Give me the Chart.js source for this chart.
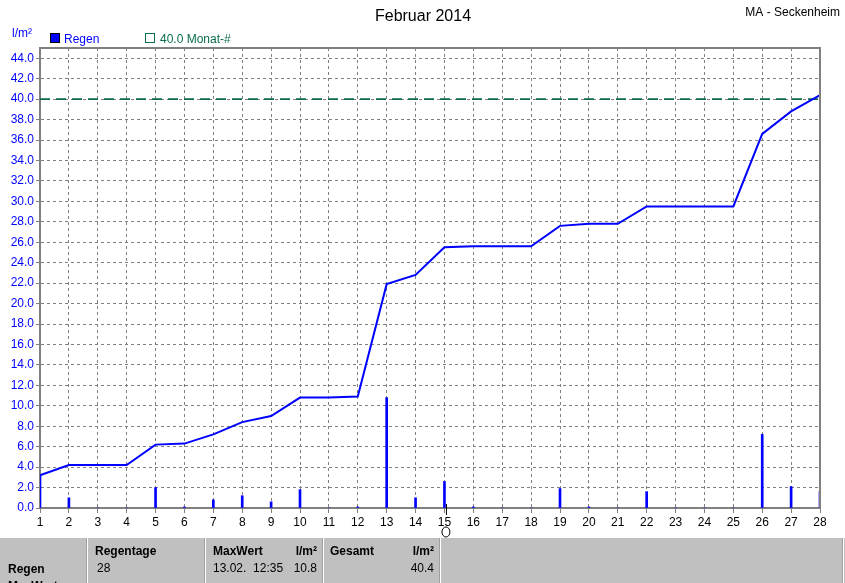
<!DOCTYPE html>
<html>
<head>
<meta charset="UTF-8">
<title>Februar 2014</title>
<script src="https://cdn.jsdelivr.net/npm/chart.js@4.4.1/dist/chart.umd.min.js"></script>
<style>
body { margin:0; background:#fff; }
</style>
</head>
<body>
<canvas id="myChart" width="845" height="583"></canvas>
<script>
// Tage im Februar
var tage = ['1','2','3','4','5','6','7','8','9','10','11','12','13','14',
            '15','16','17','18','19','20','21','22','23','24','25','26','27','28'];
// Tagesregen l/m²
var regen = [3.2,1.0,0,0,2.0,0.1,0.8,1.2,0.6,1.8,0,0.1,10.8,1.0,
             2.6,0.1,0,0,1.9,0.1,0,1.6,0,0,0,7.2,2.1,1.6];
// Summe (Kurve)
var summe = [3.2,4.2,4.2,4.2,6.2,6.3,7.2,8.4,9.0,10.8,10.8,10.9,21.9,22.8,
             25.5,25.6,25.6,25.6,27.6,27.8,27.8,29.5,29.5,29.5,29.5,36.6,38.8,40.4];
var monatMittel = 40.0;
var vollmondTag = 15;

var grau = '#808080';
var blau = '#0000ff';
var gruen = '#0a6e48';
var schrift = '"Liberation Sans", Arial, sans-serif';

var rahmenPlugin = {
  id: 'rahmen',
  beforeDraw: function(chart) {
    var ctx = chart.ctx;
    ctx.save();
    ctx.fillStyle = '#fff';
    ctx.fillRect(0, 0, chart.width, chart.height);
    ctx.restore();
  },
  afterDraw: function(chart) {
    var ctx = chart.ctx, a = chart.chartArea;
    ctx.save();
    // rahmen oben / rechts
    ctx.strokeStyle = grau;
    ctx.lineWidth = 2;
    ctx.beginPath();
    ctx.moveTo(a.left, a.top);
    ctx.lineTo(a.right, a.top);
    ctx.lineTo(a.right, a.bottom);
    ctx.stroke();

    // titel
    ctx.fillStyle = '#000';
    ctx.font = '16px ' + schrift;
    ctx.textAlign = 'center';
    ctx.textBaseline = 'alphabetic';
    ctx.fillText('Februar 2014', 423, 21);
    ctx.font = '12px ' + schrift;
    ctx.textAlign = 'right';
    ctx.fillText('MA - Seckenheim', 840, 16);

    // einheit + legende
    ctx.textAlign = 'left';
    ctx.fillStyle = blau;
    ctx.fillText('l/m²', 12, 37);
    ctx.fillRect(50, 33, 10, 10);
    ctx.strokeStyle = '#000';
    ctx.lineWidth = 1;
    ctx.strokeRect(50.5, 33.5, 9, 9);
    ctx.fillText('Regen', 64, 43);
    ctx.strokeStyle = gruen;
    ctx.strokeRect(145.5, 33.5, 9, 9);
    ctx.fillStyle = gruen;
    ctx.fillText('40.0 Monat-#', 160, 43);

    // vollmond
    var mx = chart.scales.x.getPixelForValue(vollmondTag - 1) + 1.5;
    ctx.strokeStyle = '#000';
    ctx.beginPath();
    ctx.moveTo(mx + 0.5, 504);
    ctx.lineTo(mx + 0.5, 515);
    ctx.stroke();
    ctx.beginPath();
    ctx.ellipse(mx, 532, 4, 5, 0, 0, Math.PI * 2);
    ctx.stroke();

    // tabelle unten
    ctx.fillStyle = '#c0c0c0';
    ctx.fillRect(0, 538, 845, 45);
    ctx.fillStyle = '#fff';
    [87, 205, 323, 440, 843].forEach(function(x) { ctx.fillRect(x, 538, 1, 45); });
    ctx.fillStyle = '#a0a0a0';
    [86, 204, 322, 439, 842].forEach(function(x) { ctx.fillRect(x, 538, 1, 45); });
    ctx.fillStyle = '#000';
    ctx.font = 'bold 12px ' + schrift;
    ctx.fillText('Regentage', 95, 555);
    ctx.fillText('MaxWert', 213, 555);
    ctx.fillText('Gesamt', 330, 555);
    ctx.fillText('Regen', 8, 573);
    ctx.fillText('MaxWert', 8, 590);
    ctx.textAlign = 'right';
    ctx.fillText('l/m²', 317, 555);
    ctx.fillText('l/m²', 434, 555);
    ctx.font = '12px ' + schrift;
    ctx.fillText('10.8', 317, 572);
    ctx.fillText('40.4', 434, 572);
    ctx.textAlign = 'left';
    ctx.fillText('28', 97, 572);
    ctx.fillText('13.02.  12:35', 213, 572);
    ctx.restore();
  }
};

var ctx = document.getElementById('myChart').getContext('2d');
var myChart = new Chart(ctx, {
  type: 'bar',
  data: {
    labels: tage,
    datasets: [{
      label: 'Regen',
      data: regen,
      backgroundColor: blau,
      barThickness: 2,
      order: 3
    }, {
      label: 'Summe',
      type: 'line',
      data: summe,
      borderColor: blau,
      borderWidth: 2,
      pointRadius: 0,
      tension: 0,
      order: 1
    }, {
      label: '40.0 Monat-#',
      type: 'line',
      data: tage.map(function() { return monatMittel; }),
      borderColor: gruen,
      borderWidth: 1.6,
      borderDash: [10, 6],
      pointRadius: 0,
      order: 2
    }]
  },
  options: {
    responsive: false,
    animation: false,
    layout: { padding: { top: 48, right: 25, left: 0, bottom: 0 } },
    plugins: {
      legend: { display: false },
      title: { display: false },
      tooltip: { enabled: false }
    },
    scales: {
      x: {
        offset: false,
        afterFit: function(s) { s.height = 75; },
        grid: { offset: false, color: grau, lineWidth: 1, tickLength: 5, tickColor: grau, drawOnChartArea: true },
        border: { color: grau, width: 2, dash: [3, 3] },
        ticks: { color: '#000', font: { family: schrift, size: 12 }, padding: 2, maxRotation: 0, autoSkip: false }
      },
      y: {
        min: 0,
        max: 45,
        afterFit: function(s) { s.width = 40; },
        grid: { color: grau, lineWidth: 1, tickLength: 4, tickColor: grau },
        border: { color: grau, width: 2, dash: [3, 3] },
        ticks: {
          stepSize: 2,
          includeBounds: false,
          color: blau,
          padding: 2,
          font: { family: schrift, size: 12 },
          callback: function(v) { return v.toFixed(1); }
        }
      }
    }
  },
  plugins: [rahmenPlugin]
});
</script>
</body>
</html>
